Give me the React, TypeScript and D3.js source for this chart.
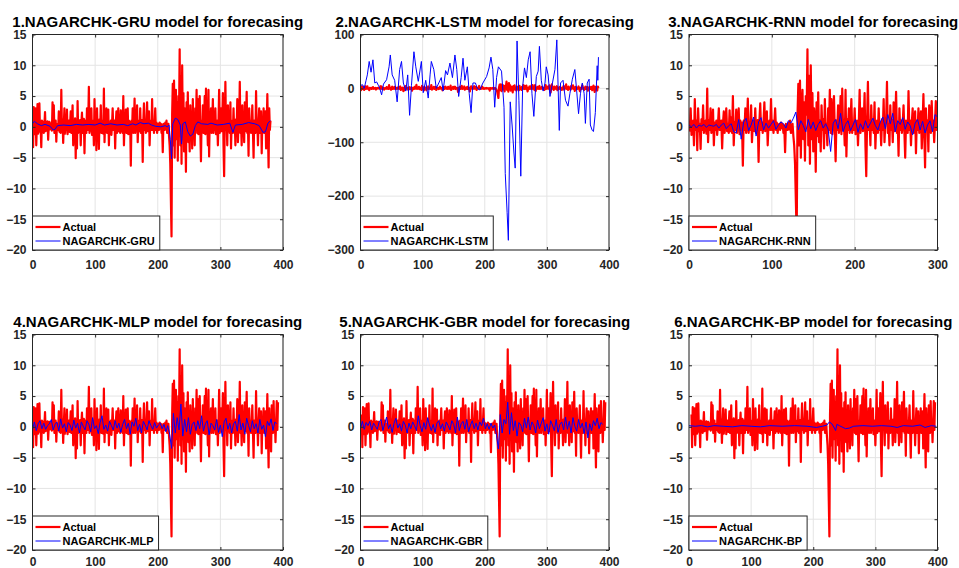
import React, { useEffect, useRef } from "react";
import * as d3 from "d3";

// actual series (one value per time step)
const actual = [
  2.0, -3.3, 3.2, -1.2, 0.6, 3.0, -3.0, 0.4, 3.7, -1.1,
  0.5, 3.8, -0.8, 0.2, -3.3, 1.0, -0.5, 0.8, -1.0, 0.3,
  2.4, -0.7, 0.5, -0.3, 0.9, -2.1, 0.2, 0.8, -0.4, 0.1,
  0.6, -0.6, 4.0, -0.4, 3.5, -1.0, 0.5, 1.0, -2.4, 0.2,
  0.5, -0.5, 2.5, -0.8, 1.5, -1.0, 6.0, -0.7, 1.2, -2.6,
  0.5, 3.0, -1.1, 0.7, -0.5, 2.8, -1.2, 0.4, 1.0, -0.8,
  0.3, 2.5, -1.0, 0.5, 3.5, -3.0, 0.7, -0.5, 1.4, -5.1,
  1.0, -3.5, 4.2, -1.0, 0.7, -0.5, 1.1, -3.0, 0.5, 2.3,
  -1.0, 0.5, 1.3, -4.3, 1.0, 0.3, -1.0, 3.0, -0.5, 0.7,
  6.5, -1.0, 1.0, -0.6, 3.0, -1.3, 0.5, 1.0, -3.0, 4.5,
  -0.5, 1.0, -3.8, 3.0, -0.7, 0.5, -3.6, 1.2, -0.5, 3.5,
  -1.0, 0.7, 1.0, -1.1, 6.2, -2.5, 1.0, -0.5, 3.0, -1.0,
  0.5, 2.8, -3.0, 0.7, -0.5, 1.0, -1.3, 0.5, 3.0, -0.5,
  0.2, 1.0, -3.5, 0.5, 2.5, -1.0, 0.7, 3.0, -0.7, 0.5,
  -1.0, 2.7, -0.7, 1.5, -1.0, 5.0, -3.0, 0.7, -0.5, 2.8,
  -1.0, 0.5, 3.0, -1.2, 1.0, -0.5, 0.7, -6.3, 1.0, -0.5,
  3.0, -1.0, 0.5, 4.6, -1.0, 0.7, -0.5, 3.5, -2.5, 0.5,
  1.0, -0.7, 3.0, -1.0, 0.5, 1.1, -5.7, 1.0, 3.8, -0.5,
  0.7, -1.0, 1.0, 4.0, -0.7, 0.5, 2.5, -3.0, 0.5, 1.0,
  -0.5, 4.5, -0.5, 1.0, -1.0, 0.5, 3.0, -0.5, 0.7, -1.0,
  0.2, 0.5, -0.5, 0.7, -0.2, 0.5, -1.0, 0.2, -4.1, 0.5,
  0.2, -0.5, 0.7, -0.4, 1.0, -1.0, 0.2, 0.5, -1.5, -3.0,
  -6.0, -12.0, -17.8, 2.0, 7.0, -3.0, 7.5, -5.0, 3.0, 6.0,
  -2.0, 4.0, -5.5, 5.0, 2.0, 12.6, -3.0, 8.3, -6.0, 10.0,
  -2.0, 5.5, -4.0, 3.0, 1.0, -7.3, 4.0, -1.5, 5.6, -2.5,
  1.0, -4.0, 3.5, -0.5, 1.2, -3.5, 4.5, -1.0, 0.5, -3.0,
  3.0, -0.5, 6.0, -1.0, 4.5, -1.2, 0.7, 5.0, -0.7, -5.6,
  1.0, -0.5, 3.5, -1.0, 0.5, 5.0, -1.2, 6.2, -0.5, 1.0,
  -3.0, 6.0, -4.8, 1.2, -0.5, 3.0, -1.0, 0.5, 4.5, -1.0,
  0.7, -0.5, 3.0, -1.2, 0.5, 1.0, -3.0, 0.7, 6.0, -1.0,
  0.5, 3.0, -0.7, 1.0, 5.5, -3.0, -8.0, 1.0, 7.3, -0.5,
  1.0, -3.0, 3.5, -0.5, 0.7, -1.0, 4.0, -3.5, 0.5, 1.0,
  -1.0, 3.0, -0.5, 0.7, -3.0, 1.2, -0.5, 4.5, -2.5, 0.5,
  1.0, 7.3, -1.0, 0.5, -3.0, 3.5, -0.5, 1.0, -2.5, 4.0,
  -0.7, 1.0, 5.7, -1.0, 0.5, -4.7, 3.0, -0.5, 1.0, -1.0,
  0.5, 3.5, -0.7, -5.0, 1.0, 0.5, -1.0, 5.8, -0.5, 1.0,
  -3.0, 0.7, 3.0, -1.0, 0.5, 2.5, -4.3, 1.0, -0.5, 3.0,
  -1.0, 0.7, 2.5, -3.5, 0.5, 5.3, -1.0, -6.6, 3.0, -0.5,
  1.0, -4.0, 3.5, 0.5, -1.0, 4.2, -0.5, 1.0, -2.5, 0.7,
  4.2, -0.5, 4.0,
];

// GRU forecast, [t, value]
const gruPred: [number, number][] = [
  [0, 0.5], [3, 0.9], [8, 0.5], [14, 0.2], [20, 0.4], [28, 0.1], [33, -0.5], [36, -0.4], [40, 0.2],
  [50, 0.3], [60, 0.2], [70, 0.4], [80, 0.3], [90, 0.4], [100, 0.3], [108, 0.6], [115, 0.3], [125, 0.5],
  [135, 0.3], [145, 0.4], [152, 0.2], [160, 0.5], [165, 0.3], [172, 0.7], [178, 0.5], [185, 0.6],
  [190, 0.3], [196, 0.1], [205, 0.0], [212, 0.2], [215, 0.0], [218, 0.3], [220, -2.0], [222, -5.2],
  [224, 0.5], [228, 1.4], [232, 1.2], [236, 0.3], [238, -2.8], [240, 0.5], [244, 0.8], [248, -0.8],
  [252, -1.5], [256, -1.2], [260, 0.2], [264, 0.8], [270, 0.5], [280, 0.4], [285, 0.6], [295, 0.3],
  [305, 0.4], [315, 0.6], [320, -0.9], [324, 0.3], [335, 0.4], [345, 0.7], [355, 0.5], [362, 0.2],
  [368, -0.9], [372, -0.8], [376, 0.6], [380, 1.0],
];

// LSTM forecast, [t, value]
const lstmPred: [number, number][] = [
  [0, 5], [3, 7], [6, 0], [9, 15], [11, 25], [14, 50], [17, 30], [20, 53], [23, 10], [26, 12], [29, 5],
  [31, 0], [34, -12], [37, 8], [42, 16], [46, 40], [48, 62], [51, 25], [55, 15], [59, -25], [63, 35],
  [66, 50], [69, 10], [73, -5], [76, 25], [79, -50], [82, 5], [86, 68], [89, 40], [93, 13], [98, 50],
  [101, -8], [105, 15], [109, -18], [112, 25], [114, 50], [118, 35], [122, 0], [126, 10], [130, 20],
  [133, -5], [137, 33], [140, 25], [144, 47], [148, 20], [152, 62], [155, 35], [158, -15], [162, 20],
  [165, 56], [168, 15], [172, 40], [175, -10], [178, -45], [181, 10], [185, 10], [188, 0], [192, -3],
  [197, 10], [203, 22], [207, 38], [210, 58], [213, 35], [216, -35], [219, 20], [222, 40], [227, 32],
  [231, -35], [233, -158], [236, -230], [238, -282], [241, -25], [244, -68], [247, -120], [249, -148],
  [252, 88], [255, -22], [258, -163], [261, 3], [264, 38], [267, 20], [270, 53], [273, 68], [276, -10],
  [279, -52], [283, 22], [286, 32], [288, 78], [291, 15], [294, -5], [297, 10], [299, 40], [302, 25],
  [305, -15], [309, 10], [313, 35], [316, 90], [320, -78], [322, 10], [326, 15], [330, -22], [334, -33],
  [337, -10], [341, 17], [345, 35], [348, -5], [351, -47], [354, -10], [357, 10], [360, -10], [362, -65],
  [365, 10], [368, 17], [370, -68], [373, -78], [375, -80], [378, -45], [381, 42], [382, 15], [383, 58],
];

// RNN forecast, every 3rd step, t = 0..300
const rnnPred = [
  0.3, 0.0, 0.4, -0.2, 0.3, 0.1, 0.4, -0.1, 0.3, 0.2,
  0.1, 0.4, -0.2, 0.3, 0.6, -0.3, 0.2, 0.5, -0.8, -1.0,
  1.2, -2.0, 0.8, 1.4, -0.6, 0.3, 1.6, -1.5, 0.8, 1.5,
  -0.5, 0.6, -0.2, 0.4, 1.0, -0.4, 0.3, 0.8, 0.5, -0.2,
  1.0, 0.6, 1.4, 2.4, -0.5, 1.0, 0.2, -0.8, 1.2, -0.3,
  0.8, -0.6, 0.4, 1.0, -0.2, 0.5, -0.4, -4.0, 0.6, 1.2,
  -0.3, 2.2, -0.8, 0.4, 1.0, -0.6, 0.3, 1.2, -0.9, 0.5,
  -0.4, 1.0, -0.2, 0.6, 1.4, 0.2, -0.5, 0.8, 1.6, -0.3,
  2.0, 0.5, 2.2, -0.8, 1.0, 0.4, 1.5, -0.4, 0.8, 0.2,
  -1.3, 0.6, 1.2, -0.5, 0.9, -1.0, 0.3, 1.0, -0.8, 2.0,
  1.6,
];

// MLP forecast, every 3rd step
const mlpPred = [
  -0.5, 0.8, -0.6, 0.5, 1.0, -0.3, 0.6, -0.4, 0.2, 0.5,
  1.2, -0.5, 0.4, 0.8, -0.7, 1.3, -0.2, 0.5, -0.8, 0.7,
  0.3, -0.6, 1.1, -0.2, 0.6, -1.0, 0.8, 0.1, -0.5, 1.0,
  0.4, -0.8, 1.5, -0.3, 0.2, -1.1, 0.7, 1.8, -0.4, 0.3,
  -0.7, 0.9, 0.2, -0.5, 1.0, -0.2, 0.6, -0.9, 0.4, 1.2,
  -0.3, 0.6, -1.2, 0.8, 0.1, 1.4, -0.6, 0.4, -1.0, 0.9,
  0.3, -0.5, 1.0, 0.2, -0.4, 0.7, -0.2, 0.3, 0.6, -0.3,
  0.4, -0.8, 0.2, -1.2, -3.5, 2.2, -1.0, 1.5, -0.5, 3.7,
  -1.5, 1.2, -0.8, 1.5, -1.2, 0.4, 0.8, -0.6, 1.0, -0.3,
  1.8, -0.7, 0.5, 1.0, -1.3, 0.6, 0.2, -0.5, 1.2, -0.9,
  0.3, -1.6, 0.8, 1.4, -0.4, 0.6, -1.0, 0.5, 0.9, -0.7,
  2.0, -0.5, 0.6, -1.2, 1.4, 0.2, -0.8, 1.0, -0.3, 0.5,
  -1.0, 1.2, -0.4, 0.3, -1.6, 0.9, 0.2, 1.3, -0.6, 0.8,
  0.5,
];

// GBR forecast, every 3rd step
const gbrPred = [
  -0.3, 0.9, -0.4, 0.7, 0.2, 0.9, -0.5, 0.6, 0.1, -0.4,
  0.8, 1.2, -0.6, 0.5, 1.6, -0.3, 0.4, -0.9, 0.6, 1.4,
  -0.2, 0.5, -0.7, 0.9, 0.3, -1.0, 0.6, -0.3, 0.8, 0.2,
  -0.6, 1.8, 0.2, -0.8, 0.7, -0.4, 1.5, 0.3, -0.6, 0.4,
  -0.9, 0.6, 1.0, -0.3, 0.5, -0.7, 0.8, 0.2, -0.5, 1.0,
  0.4, -1.0, 1.6, -0.6, 0.5, 0.9, -0.4, 1.2, -0.8, 0.3,
  1.0, -0.3, 0.6, -0.5, 0.8, 0.2, 1.4, -0.3, 0.5, -0.4,
  0.6, -0.2, 0.3, -1.4, -3.6, 2.0, -1.0, 1.2, 0.5, 4.0,
  -1.2, 2.3, -0.6, 1.0, -1.5, 0.7, 0.3, -0.8, 1.4, -0.2,
  1.6, -0.5, 0.8, 0.2, -1.0, 1.1, -0.3, 0.6, 1.5, -0.7,
  0.5, -1.2, 1.0, 0.3, -0.6, 1.2, -0.9, 0.4, 0.8, -0.5,
  1.6, -0.4, 0.9, -1.0, 1.5, 0.1, -0.7, 1.2, -0.2, 0.6,
  -1.1, 0.8, -1.8, 0.5, -0.6, 1.0, 0.2, 1.4, -0.3, 0.7,
  0.4,
];

// BP forecast, [t, value]
const bpPred: [number, number][] = [
  [0, 0.2], [10, 0.1], [20, 0.2], [30, 0.0], [40, 0.2], [55, 0.1], [70, 0.0], [85, 0.2], [100, 0.1],
  [115, 0.0], [130, 0.2], [150, 0.1], [170, 0.2], [190, 0.1], [205, -0.1], [215, 0.1], [222, 0.3],
  [226, 0.8], [230, 0.5], [234, -0.2], [236, -0.6], [238, 0.4], [242, 0.2], [248, -0.1], [252, -0.3],
  [258, -0.2], [265, 0.1], [280, 0.2], [295, 0.1], [310, 0.2], [325, 0.1], [335, -0.1], [345, 0.2],
  [360, 0.1], [372, 0.3], [380, -0.1], [390, 0.2], [398, 0.1],
];

const titles = [
  "1.NAGARCHK-GRU model for forecasing",
  "2.NAGARCHK-LSTM model for forecasing",
  "3.NAGARCHK-RNN model for forecasing",
  "4.NAGARCHK-MLP model for forecasing",
  "5.NAGARCHK-GBR model for forecasing",
  "6.NAGARCHK-BP model for forecasing",
];
const modelNames = ["NAGARCHK-GRU", "NAGARCHK-LSTM", "NAGARCHK-RNN", "NAGARCHK-MLP", "NAGARCHK-GBR", "NAGARCHK-BP"];
const yTicks = [-20, -15, -10, -5, 0, 5, 10, 15];
const yTicksLstm = [-300, -200, -100, 0, 100];
const xTicks400 = [0, 100, 200, 300, 400];
const xTicks300 = [0, 100, 200, 300];

const every3 = (arr: number[]): [number, number][] => arr.map((v, i) => [i * 3, v]);
const toPts = (arr: number[], shift = 0): [number, number][] => arr.map((v, i) => [i + shift, v]);

const FONT = "'Liberation Sans', Arial, Helvetica, sans-serif";

const panels = [
  { left: 32.5, top: 34.5, w: 250.5, h: 215.5, pad: 10, xMax: 400, xt: xTicks400, yd: [-20, 15], yt: yTicks, act: toPts(actual.slice(0, 381)), pred: gruPred },
  { left: 360.5, top: 34.5, w: 248.5, h: 215.5, pad: 10, xMax: 400, xt: xTicks400, yd: [-300, 100], yt: yTicksLstm, act: toPts(actual.slice(0, 384)), pred: lstmPred },
  { left: 689, top: 34.5, w: 248.5, h: 215.5, pad: 10, xMax: 300, xt: xTicks300, yd: [-20, 15], yt: yTicks, act: toPts(actual.slice(92)), pred: every3(rnnPred) },
  { left: 32.5, top: 334.5, w: 250.5, h: 215.5, pad: 7, xMax: 400, xt: xTicks400, yd: [-20, 15], yt: yTicks, act: toPts(actual), pred: every3(mlpPred) },
  { left: 360.5, top: 334.5, w: 248.5, h: 215.5, pad: 7, xMax: 400, xt: xTicks400, yd: [-20, 15], yt: yTicks, act: toPts(actual, 2), pred: every3(gbrPred) },
  { left: 689, top: 334.5, w: 248.5, h: 215.5, pad: 7, xMax: 400, xt: xTicks400, yd: [-20, 15], yt: yTicks, act: toPts(actual, 4), pred: bpPred },
];

export default function App() {
  const svgRef = useRef<SVGSVGElement>(null);

  useEffect(() => {
    const svg = d3.select(svgRef.current);
    svg.selectAll("*").remove();

    panels.forEach((p, k) => {
      const g = svg.append("g").attr("transform", `translate(${p.left},${p.top})`);
      const x = d3.scaleLinear().domain([0, p.xMax]).range([0, p.w]);
      const y = d3.scaleLinear().domain(p.yd).range([p.h, 0]);

      g.append("rect").attr("width", p.w).attr("height", p.h).attr("fill", "#fff");

      // grid
      g.selectAll(".gx").data(p.xt).join("line")
        .attr("x1", d => x(d)).attr("x2", d => x(d)).attr("y1", 0).attr("y2", p.h)
        .attr("stroke", "#e4e4e4");
      g.selectAll(".gy").data(p.yt).join("line")
        .attr("x1", 0).attr("x2", p.w).attr("y1", d => y(d)).attr("y2", d => y(d))
        .attr("stroke", "#e4e4e4");

      const clipId = `clip${k}`;
      g.append("clipPath").attr("id", clipId).append("rect").attr("width", p.w).attr("height", p.h);

      const ln = d3.line<[number, number]>().x(d => x(d[0])).y(d => y(d[1]));
      g.append("path").datum(p.act).attr("clip-path", `url(#${clipId})`)
        .attr("d", ln).attr("fill", "none").attr("stroke", "#ff0000")
        .attr("stroke-width", 2.2).attr("stroke-linejoin", "round");
      g.append("path").datum(p.pred).attr("clip-path", `url(#${clipId})`)
        .attr("d", ln).attr("fill", "none").attr("stroke", "#0000ff").attr("stroke-width", 1);

      // axes
      const styleAxis = (sel: any) => {
        sel.select(".domain").remove();
        sel.selectAll("line").attr("stroke", "#262626");
        sel.selectAll("text").attr("fill", "#262626").attr("font-size", 12)
          .attr("font-weight", "bold").attr("font-family", FONT);
      };
      g.append("g").attr("transform", `translate(0,${p.h})`)
        .call(d3.axisBottom(x).tickValues(p.xt).tickSize(-3).tickPadding(p.pad).tickFormat(d3.format("d")))
        .call(styleAxis);
      g.append("g")
        .call(d3.axisLeft(y).tickValues(p.yt).tickSize(-3).tickPadding(6).tickFormat(d3.format("d")))
        .call(styleAxis);
      g.append("g").call(d3.axisTop(x).tickValues(p.xt).tickSize(-3).tickFormat(() => "")).call(styleAxis);
      g.append("g").attr("transform", `translate(${p.w},0)`)
        .call(d3.axisRight(y).tickValues(p.yt).tickSize(-3).tickFormat(() => "")).call(styleAxis);

      g.append("rect").attr("width", p.w).attr("height", p.h).attr("fill", "none").attr("stroke", "#262626");

      // title
      g.append("text").attr("x", p.w / 2).attr("y", -8).attr("text-anchor", "middle")
        .attr("font-family", FONT).attr("font-weight", "bold").attr("font-size", 15)
        .attr("fill", "#000").text(titles[k]);

      // legend
      const lg = g.append("g").attr("transform", `translate(0,${p.h - 34})`);
      const box = lg.append("rect").attr("height", 34).attr("fill", "#fff").attr("stroke", "#262626");
      lg.append("line").attr("x1", 3).attr("x2", 28).attr("y1", 11).attr("y2", 11)
        .attr("stroke", "#ff0000").attr("stroke-width", 2.2);
      lg.append("line").attr("x1", 3).attr("x2", 28).attr("y1", 25).attr("y2", 25)
        .attr("stroke", "#0000ff").attr("stroke-width", 1);
      const labels = [["Actual", 11], [modelNames[k], 25]] as [string, number][];
      let maxW = 0;
      labels.forEach(([t, yy]) => {
        const tx = lg.append("text").attr("x", 30).attr("y", yy).attr("dy", "0.35em")
          .attr("font-family", FONT).attr("font-weight", "bold").attr("font-size", 11)
          .attr("fill", "#000").text(t);
        const node = tx.node() as SVGTextElement;
        maxW = Math.max(maxW, node.getComputedTextLength());
      });
      box.attr("width", 30 + maxW + 5);
    });
  }, []);

  return (
    <svg ref={svgRef} width={959} height={568}
      style={{ position: "absolute", left: 0, top: 0, background: "#fff" }} />
  );
}
